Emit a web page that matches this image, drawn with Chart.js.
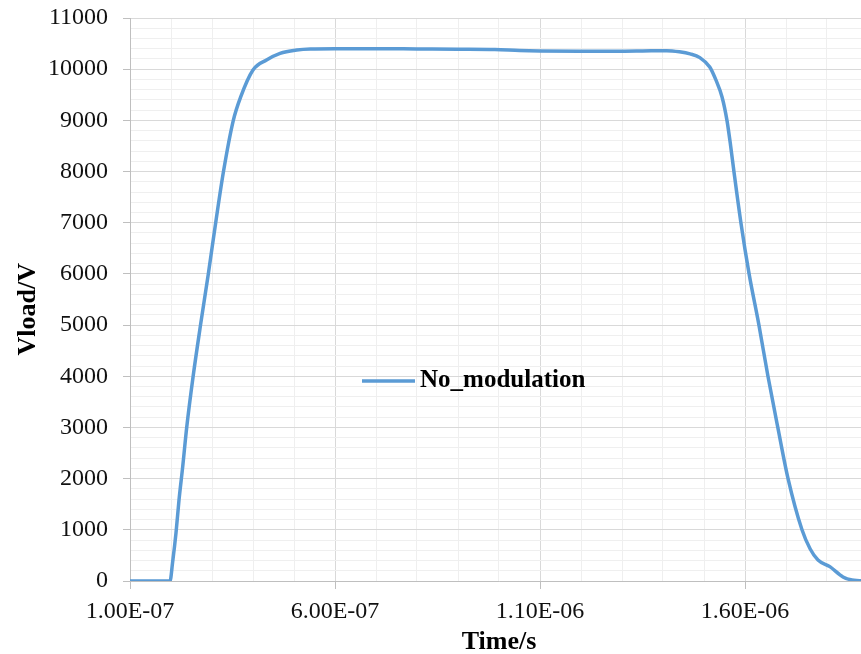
<!DOCTYPE html>
<html>
<head>
<meta charset="utf-8">
<script src="https://cdn.jsdelivr.net/npm/chart.js@4/dist/chart.umd.min.js"></script>
<style>
  html, body { margin: 0; padding: 0; background: #fff; overflow: hidden; }
  #wrap { width: 880px; height: 664px; position: relative; }
</style>
</head>
<body>
<div id="wrap"><canvas id="vloadChart"></canvas></div>
<script>
// time (s) and load voltage (V)
const times = [
  1.000e-7, 1.500e-7, 1.976e-7, 2.037e-7, 2.122e-7, 2.195e-7, 2.285e-7, 2.383e-7,
  2.540e-7, 2.720e-7, 2.910e-7, 3.090e-7, 3.280e-7, 3.520e-7, 3.700e-7, 4.000e-7,
  4.330e-7, 4.660e-7, 5.070e-7, 5.400e-7, 6.000e-7, 7.000e-7, 8.000e-7, 9.000e-7,
  9.900e-7, 1.050e-6, 1.100e-6, 1.200e-6, 1.300e-6, 1.350e-6, 1.409e-6, 1.440e-6,
  1.466e-6, 1.490e-6, 1.514e-6, 1.529e-6, 1.544e-6, 1.556e-6, 1.565e-6, 1.573e-6,
  1.590e-6, 1.610e-6, 1.634e-6, 1.656e-6, 1.680e-6, 1.705e-6, 1.739e-6, 1.759e-6,
  1.778e-6, 1.807e-6, 1.839e-6, 1.861e-6, 1.900e-6
];
const vload = [
  0, 0, 0, 350, 940, 1580, 2230, 3000,
  4000, 5000, 6000, 7000, 8000, 9000, 9460, 9985,
  10180, 10310, 10375, 10395, 10400, 10400, 10395, 10390,
  10385, 10365, 10356, 10350, 10350, 10355, 10362, 10340,
  10300, 10225, 10043, 9790, 9457, 9000, 8500, 8000,
  7000, 6000, 5000, 4000, 3000, 2000, 1000, 625,
  410, 280, 80, 20, 0
];
const seriesName = 'No_modulation';
const xTickValues = [
  1e-7, 2e-7, 3e-7, 4e-7, 5e-7, 6e-7, 7e-7, 8e-7, 9e-7, 1.0e-6,
  1.1e-6, 1.2e-6, 1.3e-6, 1.4e-6, 1.5e-6, 1.6e-6, 1.7e-6, 1.8e-6, 1.9e-6
];
const yMax = 11000;
const yMinorStep = 200;

const lineColor = '#5B9BD5';
const majorGrid = '#d9d9d9';
const minorGrid = '#efefef';

function fmtSci(v) {
  const parts = v.toExponential(2).split('e');
  const n = parseInt(parts[1], 10);
  return parts[0] + 'E' + (n < 0 ? '-' : '+') + String(Math.abs(n)).padStart(2, '0');
}

// legend drawn in the middle of the plot, like the original
const innerLegend = {
  id: 'innerLegend',
  afterDraw(chart) {
    const ctx = chart.ctx;
    const area = chart.chartArea;
    const ds = chart.data.datasets[0];
    const x = area.left + 232, y = area.top + 363;
    ctx.save();
    ctx.strokeStyle = ds.borderColor;
    ctx.lineWidth = 3.5;
    ctx.beginPath();
    ctx.moveTo(x, y);
    ctx.lineTo(x + 53, y);
    ctx.stroke();
    ctx.fillStyle = '#000';
    ctx.font = 'bold 25px "Liberation Serif"';
    ctx.textBaseline = 'middle';
    ctx.fillText(ds.label, x + 58, y);
    ctx.restore();
  }
};

const points = times.map((t, i) => ({ x: t, y: vload[i] }));

new Chart(document.getElementById('vloadChart'), {
  type: 'line',
  data: {
    datasets: [{
      label: seriesName,
      data: points,
      borderColor: lineColor,
      backgroundColor: lineColor,
      borderWidth: 3.5,
      pointRadius: 0,
      cubicInterpolationMode: 'monotone',
      fill: false
    }]
  },
  options: {
    responsive: true,
    maintainAspectRatio: false,
    animation: false,
    layout: { padding: { top: 18, right: 12, left: 0, bottom: 0 } },
    plugins: {
      legend: { display: false },
      tooltip: { enabled: false }
    },
    scales: {
      x: {
        type: 'linear',
        min: xTickValues[0],
        max: xTickValues[xTickValues.length - 1],
        afterBuildTicks: scale => { scale.ticks = xTickValues.map(v => ({ value: v })); },
        afterFit: scale => { scale.height = 83; scale.paddingLeft = 0; scale.paddingRight = 0; },
        ticks: {
          autoSkip: false,
          maxRotation: 0,
          padding: 8,
          color: '#111',
          font: { family: '"Liberation Serif"', size: 24 },
          callback: (v, i) => (i % 5 === 0 ? fmtSci(v) : '')
        },
        grid: {
          color: c => (c.index % 5 === 0 ? majorGrid : minorGrid),
          tickColor: c => (c.index % 5 === 0 ? '#bfbfbf' : 'rgba(0,0,0,0)'),
          tickLength: 8,
          lineWidth: 1
        },
        border: { color: '#bfbfbf', width: 1 },
        title: {
          display: true,
          text: 'Time/s',
          color: '#000',
          font: { family: '"Liberation Serif"', size: 26, weight: 'bold' },
          padding: { top: 0, bottom: 6 }
        }
      },
      y: {
        min: 0,
        max: yMax,
        afterBuildTicks: scale => {
          const t = [];
          for (let v = 0; v <= yMax; v += yMinorStep) t.push({ value: v });
          scale.ticks = t;
        },
        afterFit: scale => { scale.width = 130; scale.paddingTop = 0; scale.paddingBottom = 0; },
        ticks: {
          autoSkip: false,
          padding: 15,
          color: '#111',
          font: { family: '"Liberation Serif"', size: 24 },
          callback: v => (v % 1000 === 0 ? v : '')
        },
        grid: {
          color: c => (c.index % 5 === 0 ? majorGrid : minorGrid),
          tickColor: c => (c.index % 5 === 0 ? '#bfbfbf' : 'rgba(0,0,0,0)'),
          tickLength: 7,
          lineWidth: 1
        },
        border: { color: '#bfbfbf', width: 1 },
        title: {
          display: true,
          text: 'Vload/V   ',
          color: '#000',
          font: { family: '"Liberation Serif"', size: 26, weight: 'bold' },
          padding: { top: 13, bottom: 0 }
        }
      }
    }
  },
  plugins: [innerLegend]
});
</script>
</body>
</html>
